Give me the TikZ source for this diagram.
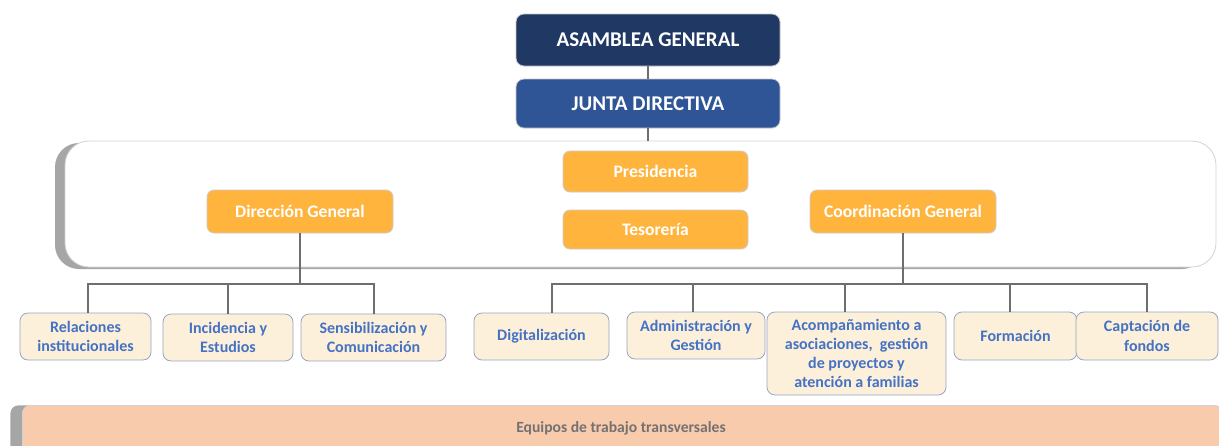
\documentclass[tikz,border=0pt]{standalone}
\usepackage{fontspec}
\setmainfont{Carlito}
\usetikzlibrary{shadows}
\definecolor{navy}{RGB}{32,56,100}
\definecolor{juntablue}{RGB}{47,85,151}
\definecolor{cargoorange}{RGB}{255,180,62}
\definecolor{areacream}{RGB}{253,240,218}
\definecolor{areablue}{RGB}{68,114,196}
\definecolor{areaedge}{RGB}{150,165,195}
\definecolor{barsalmon}{RGB}{248,203,173}
\definecolor{bartext}{RGB}{118,113,113}
\definecolor{linkgray}{RGB}{110,110,110}
\tikzset{
  organo/.style={rounded corners=4pt,draw=gray!45,text=white,font=\bfseries\fontsize{10.5}{12}\selectfont,
    minimum width=132pt},
  cargo/.style={rounded corners=3.5pt,draw=gray!40,fill=cargoorange,text=white,
    font=\bfseries\fontsize{8.8}{10}\selectfont,minimum width=92.5pt},
  area/.style={rounded corners=4pt,draw=areaedge,fill=areacream,text=areablue,align=center,
    font=\bfseries\fontsize{8}{9.6}\selectfont,inner sep=1pt},
  link/.style={draw=linkgray,line width=1pt}
}
\begin{document}
\begin{tikzpicture}[x=0.5pt,y=-0.5pt]
\useasboundingbox (0,0) rectangle (1219,445);
\clip (0,0) rectangle (1219,445);

\node[organo,fill=navy,minimum height=26pt] (asamblea) at (648,40) {ASAMBLEA GENERAL};
\node[organo,fill=juntablue,minimum height=24.5pt] (junta) at (648,103.5) {JUNTA DIRECTIVA};

\node[rounded corners=12pt,draw=gray!35,fill=white,minimum width=575.5pt,minimum height=63pt,
  drop shadow={shadow xshift=-5pt,shadow yshift=-1pt,fill=gray!70,opacity=1}] (equipo) at (640.5,204) {};

\node[cargo,minimum height=20.5pt] (presidencia) at (655.5,171.5) {Presidencia};
\node[cargo,minimum height=19.5pt] (tesoreria) at (655.5,229.5) {Tesorería};
\node[cargo,minimum width=93pt,minimum height=21.5pt] (direccion) at (300,211.5) {Dirección General};
\node[cargo,minimum width=93pt,minimum height=21.5pt] (coordinacion) at (903,211.5) {Coordinación General};

\node[area,minimum width=65.5pt,minimum height=23.5pt] (relaciones) at (85.5,336.5) {Relaciones\\institucionales};
\node[area,minimum width=65pt,minimum height=23.5pt] (incidencia) at (228,337.5) {Incidencia y\\Estudios};
\node[area,minimum width=72.5pt,minimum height=23.5pt] (sensibilizacion) at (373.5,337.5) {Sensibilización y\\Comunicación};

\node[area,minimum width=67.5pt,minimum height=23.5pt] (digitalizacion) at (541.5,336.5) {Digitalización};
\node[area,minimum width=69pt,minimum height=23.5pt] (administracion) at (696,335.5) {Administración y\\Gestión};
\node[area,minimum width=89.5pt,minimum height=41.5pt] (acompanamiento) at (856.5,353.5) {Acompañamiento a\\asociaciones,\ \ gestión\\de proyectos y\\atención a familias};
\node[area,minimum width=61.5pt,minimum height=24pt] (formacion) at (1015.5,336) {Formación};
\node[area,minimum width=71pt,minimum height=24pt] (captacion) at (1147,336) {Captación de\\fondos};

\node[rounded corners=4pt,draw=gray!35,fill=barsalmon,minimum width=600pt,minimum height=30pt,
  anchor=north west,drop shadow={shadow xshift=-6pt,shadow yshift=0pt,fill=gray!70,opacity=1}]
  (transversales) at (22,405) {};
\node[text=bartext,font=\bfseries\fontsize{7.8}{9}\selectfont] (transversalestxt) at (621,428) {Equipos de trabajo transversales};

\coordinate (busdireccion) at (300,284);
\coordinate (buscoordinacion) at (903,284);

\draw[link] (asamblea) -- (junta);
\draw[link] (junta) -- (junta |- equipo.north);
\draw[link] (direccion) -- (busdireccion);
\draw[link] (relaciones.north -| 88,0) |- (busdireccion) -| (sensibilizacion.north);
\draw[link] (incidencia.north) -- (incidencia.north |- busdireccion);
\draw[link] (coordinacion) -- (buscoordinacion);
\draw[link] (digitalizacion.north -| 552,0) |- (buscoordinacion) -| (captacion.north);
\foreach \n/\x in {administracion/693,acompanamiento/845,formacion/1010}
  \draw[link] (\n.north -| \x,0) -- (\x,284);
\end{tikzpicture}
\end{document}
